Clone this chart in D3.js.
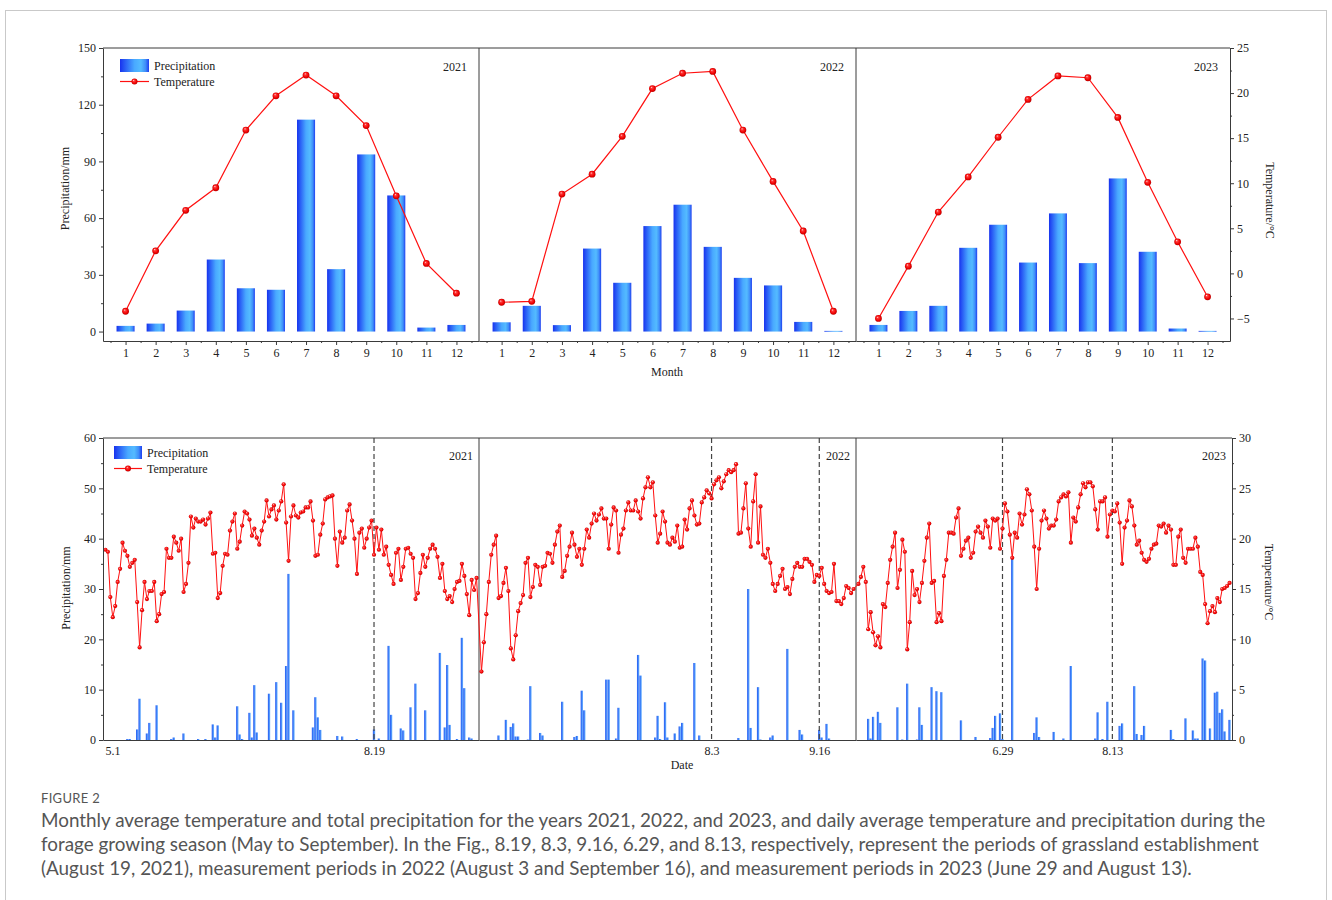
<!DOCTYPE html>
<html>
<head>
<meta charset="utf-8">
<script src="https://cdn.jsdelivr.net/npm/d3@7"></script>
<style>
  body { margin: 0; background: #fff; }
  svg { display: block; }
  .serif text, text.serif { font-family: 'Liberation Serif', 'Times New Roman', serif; }
</style>
</head>
<body>
<svg id="fig" width="1332" height="900"></svg>
<script>
// ---- monthly data (top chart) ----
const months = d3.range(1, 13);
const years = ['2021', '2022', '2023'];

const monthPrecip2021 = [3.0, 4.2, 11.1, 38.1, 22.9, 22.1, 112.1, 33.0, 93.7, 72.0, 2.1, 3.5];
const monthPrecip2022 = [4.9, 13.6, 3.4, 43.9, 25.8, 55.8, 67.1, 44.8, 28.4, 24.4, 5.1, 0.35];
const monthPrecip2023 = [3.5, 10.9, 13.6, 44.3, 56.5, 36.5, 62.5, 36.2, 81.0, 42.2, 1.6, 0.35];

const monthTemp2021 = [-4.2, 2.5, 7.0, 9.5, 15.9, 19.7, 22.0, 19.7, 16.4, 8.6, 1.1, -2.2];
const monthTemp2022 = [-3.2, -3.1, 8.8, 11.0, 15.2, 20.5, 22.2, 22.4, 15.9, 10.2, 4.7, -4.2];
const monthTemp2023 = [-5.0, 0.8, 6.8, 10.7, 15.1, 19.3, 21.9, 21.7, 17.3, 10.1, 3.5, -2.6];

const precipTicksTop = [0, 30, 60, 90, 120, 150];
const tempTicksTop = [-5, 0, 5, 10, 15, 20, 25];

// ---- daily data (bottom chart), May 1 .. Sep 30 ----
const dailyTemp2021 = [
  18.9, 18.7, 14.2, 12.2, 13.3, 15.7, 17.0, 19.6, 18.8, 18.3,
  17.2, 17.6, 17.9, 13.7, 9.2, 12.9, 15.7, 14.0, 14.8, 14.8,
  15.7, 11.8, 12.5, 14.5, 14.7, 19.0, 18.1, 18.1, 20.2, 19.6,
  18.8, 20.0, 14.7, 15.5, 17.6, 22.2, 21.1, 22.0, 21.7, 21.7,
  21.9, 21.4, 22.0, 22.6, 18.5, 18.6, 14.1, 14.6, 17.3, 18.5,
  18.4, 20.8, 21.7, 22.5, 19.0, 19.7, 21.3, 22.7, 22.5, 21.9,
  20.3, 21.0, 20.1, 19.4, 20.8, 21.7, 23.8, 22.2, 22.9, 23.3,
  21.9, 22.8, 23.7, 25.4, 21.6, 17.8,
  22.2, 23.3, 22.3, 22.1, 22.6, 22.7, 23.1, 23.1, 23.7, 21.8,
  18.3, 18.4, 20.4, 21.5, 23.9, 24.1, 24.2, 24.3, 20.0, 17.3,
  20.7, 19.6, 20.1, 22.8, 23.4, 21.8, 20.0, 16.5, 20.6, 21.0,
  19.1, 20.0, 21.1, 21.8, 18.4, 21.1, 18.9, 20.9, 18.4, 19.2,
  17.4, 16.4, 15.5, 18.6, 19.0, 15.9, 17.2, 19.0, 19.1, 18.5,
  18.1, 14.0, 14.6, 16.6, 18.4, 17.2, 18.1, 19.0, 19.4, 19.0,
  18.2, 16.1, 17.5, 14.8, 14.0, 14.3, 13.7, 15.0, 15.7, 15.8,
  17.5, 16.3, 14.5, 12.4, 15.9, 14.9, 16.1
];
const dailyTemp2022 = [
  6.8, 9.7, 12.5, 15.7, 18.4, 19.4, 20.3, 14.1, 14.3, 15.6,
  17.1, 14.8, 9.1, 8.0, 10.4, 12.8, 13.6, 14.4, 17.6, 18.1,
  14.2, 15.2, 17.4, 17.2, 15.4, 17.2, 17.3, 18.6, 18.5, 17.6,
  19.4, 20.7, 21.3, 16.2, 16.8, 18.3, 19.2, 20.6, 19.4, 18.2,
  19.0, 17.4, 19.0, 20.9, 20.1, 21.5, 22.5, 21.8, 22.4, 23.0,
  22.0, 22.0, 19.0, 21.4, 23.1, 22.8, 18.6, 20.4, 21.0, 22.8,
  23.6, 22.8, 22.8, 23.8, 22.7, 22.0, 24.0, 25.1, 26.1, 25.1,
  25.6, 22.3, 19.6, 20.5, 22.7, 21.7,
  19.6, 19.4, 20.1, 19.7, 21.3, 19.1, 19.2, 21.9, 20.9, 23.0,
  23.8, 22.3, 21.4, 21.5, 23.6, 24.1, 24.8, 24.5, 24.0, 25.4,
  25.8, 26.1, 25.0, 25.7, 26.4, 26.8, 26.6, 26.8, 27.4, 20.5,
  20.6, 23.0, 25.5, 21.0, 19.2, 23.7, 26.4, 19.6, 23.2, 18.4,
  18.1, 19.0, 17.6, 15.5, 14.8, 15.5, 16.3, 17.0, 15.0, 15.2,
  14.5, 16.0, 17.2, 17.6, 17.2, 17.2, 18.0, 18.0, 17.7, 17.4,
  15.7, 16.4, 16.3, 17.1, 15.5, 14.8, 14.6, 14.7, 17.5, 13.8,
  13.8, 13.5, 14.1, 15.3, 15.1, 14.6, 15.0
];
const dailyTemp2023 = [
  15.5, 16.2, 17.2, 15.7, 11.0, 12.7, 10.7, 9.4, 10.3, 9.2,
  13.5, 13.2, 15.6, 17.9, 19.2, 20.6, 15.1, 16.9, 19.9, 18.7,
  9.0, 11.7, 16.8, 14.4, 15.0, 13.7, 15.6, 17.8, 20.1, 21.5,
  15.6, 15.8, 11.7, 12.6, 11.8, 16.3, 17.9, 20.6, 20.6, 20.5,
  22.1, 23.0, 18.3, 19.0, 19.8, 20.1, 18.1, 18.6, 20.7, 21.2,
  20.6, 20.1, 21.8, 21.2, 19.1, 22.0, 21.8, 22.0, 19.0, 21.0,
  23.5, 22.7, 20.4, 18.1, 20.6, 20.1, 22.5, 21.4, 22.4, 24.9,
  24.4, 22.8, 19.2, 15.0, 19.0, 21.8, 22.8, 22.0, 21.0,
  21.3, 21.3, 21.9, 23.7, 24.1, 24.4, 24.2, 24.6, 19.6, 22.1,
  21.7, 23.1, 24.4, 25.5, 25.1, 25.6, 25.6, 25.2, 22.9, 20.9,
  23.7, 23.7, 24.1, 20.2, 22.4, 22.8, 22.7, 23.5, 21.6, 17.5,
  21.1, 21.8, 23.8, 23.2, 21.3, 19.4, 19.8, 18.6, 17.9, 17.7,
  18.0, 19.0, 19.4, 19.5, 21.3, 21.2, 21.5, 20.6, 21.3, 20.9,
  17.4, 17.4, 20.2, 20.9, 18.1, 17.6, 19.0, 19.0, 19.0, 20.1,
  19.2, 16.7, 16.4, 13.5, 11.6, 12.8, 13.3, 12.7, 14.1, 13.7,
  15.0, 15.1, 15.3, 15.6
];

// [days after May 1, mm]
const dailyRain2021 = [
  [9, 0.2], [10, 0.2], [13, 2.1], [14, 8.2], [17, 1.3], [18, 3.4], [21, 6.9], [27, 0.2], [28, 0.5],
  [32, 1.3], [38, 0.2], [41, 0.2], [44, 3.1], [45, 0.5], [46, 2.9], [54, 6.7], [55, 1.1], [56, 0.2],
  [59, 5.4], [60, 0.5], [61, 10.9], [62, 1.5], [67, 9.2], [70, 11.5], [72, 7.4], [74, 14.7], [75, 33.0],
  [77, 5.9], [85, 2.5], [86, 8.5], [87, 4.5], [88, 2.0], [95, 0.8], [97, 0.7], [103, 0.2], [110, 2.1],
  [112, 0.3], [116, 18.7], [117, 5.0], [121, 2.3], [122, 1.9], [125, 6.5], [127, 11.2], [131, 5.9],
  [137, 17.3], [139, 2.5], [140, 14.9], [141, 3.0], [144, 0.2], [146, 20.3], [147, 10.3], [149, 0.5], [150, 0.3]
];
const dailyRain2022 = [
  [7, 0.9], [10, 4.0], [12, 2.6], [13, 3.3], [14, 0.7], [15, 0.7], [19, 0.1], [20, 10.7], [24, 1.4],
  [25, 0.9], [33, 7.6], [38, 0.6], [39, 0.8], [41, 9.8], [42, 5.9], [51, 12.0], [52, 12.0], [55, 0.3],
  [56, 6.4], [64, 16.9], [65, 12.8], [71, 0.5], [72, 4.8], [73, 0.2], [75, 7.5], [76, 0.5], [79, 1.3],
  [81, 2.7], [82, 3.4], [87, 15.3], [89, 0.9], [105, 0.4], [109, 30.0], [110, 2.4], [113, 10.5], [114, 0.1],
  [118, 0.5], [119, 0.9], [125, 18.1], [130, 2.0], [131, 1.1], [138, 2.0], [139, 0.5], [141, 3.2], [142, 0.3]
];
const dailyRain2023 = [
  [4, 4.2], [5, 0.3], [6, 4.6], [8, 5.6], [9, 3.4], [16, 6.5], [18, 0.1], [20, 11.2], [24, 0.1],
  [25, 6.5], [26, 3.0], [30, 10.5], [32, 9.7], [34, 9.5], [42, 3.9], [48, 0.6], [54, 0.4], [55, 2.4],
  [56, 4.8], [58, 5.3], [59, 0.2], [63, 36.0], [72, 1.4], [73, 4.5], [74, 0.6], [80, 1.6], [84, 0.3],
  [87, 14.7], [97, 0.3], [98, 5.5], [100, 0.2], [102, 7.6], [107, 2.8], [108, 3.3], [113, 10.7], [114, 1.2],
  [116, 1.0], [117, 2.8], [128, 2.0], [129, 0.2], [134, 4.3], [137, 1.9], [138, 0.3], [139, 0.3],
  [141, 16.2], [142, 15.8], [144, 2.3], [146, 9.4], [147, 9.6], [148, 5.4], [149, 6.1], [150, 1.7], [152, 4.0]
];

// measurement / establishment dates (dashed lines)
const markDates2021 = ['8.19'];
const markDates2022 = ['8.3', '9.16'];
const markDates2023 = ['6.29', '8.13'];

const precipTicksBot = [0, 10, 20, 30, 40, 50, 60];
const tempTicksBot = [0, 5, 10, 15, 20, 25, 30];

const captionLines = [
  'Monthly average temperature and total precipitation for the years 2021, 2022, and 2023, and daily average temperature and precipitation during the',
  'forage growing season (May to September). In the Fig., 8.19, 8.3, 9.16, 6.29, and 8.13, respectively, represent the periods of grassland establishment',
  '(August 19, 2021), measurement periods in 2022 (August 3 and September 16), and measurement periods in 2023 (June 29 and August 13).'
];

const monthlyPrecip = [monthPrecip2021, monthPrecip2022, monthPrecip2023];
const monthlyTemp = [monthTemp2021, monthTemp2022, monthTemp2023];
const dailyTemp = [dailyTemp2021, dailyTemp2022, dailyTemp2023];
const dailyRain = [dailyRain2021, dailyRain2022, dailyRain2023];
const markDates = [markDates2021, markDates2022, markDates2023];

const monthLen = { 5: 31, 6: 30, 7: 31, 8: 31, 9: 30 };
function seasonDay(md) {
  const [m, d] = md.split('.').map(Number);
  let n = d - 1;
  for (let k = 5; k < m; k++) n += monthLen[k];
  return n;
}

const INK = '#222';
const AXIS = '#3a3a3a';

const svg = d3.select('#fig');
const defs = svg.append('defs');

const barGrad = defs.append('linearGradient').attr('id', 'barGrad')
  .attr('x1', 0).attr('x2', 1).attr('y1', 0).attr('y2', 0);
[[0, '#1732ee'], [0.12, '#2450f3'], [0.5, '#49a9ff'], [0.72, '#54bbff'], [0.88, '#3f8ef9'], [1, '#1f3ff0']]
  .forEach(([o, c]) => barGrad.append('stop').attr('offset', o).attr('stop-color', c));

const dayGrad = defs.append('linearGradient').attr('id', 'dayGrad')
  .attr('x1', 0).attr('x2', 1).attr('y1', 0).attr('y2', 0);
[[0, '#2452f2'], [0.5, '#3f86f8'], [1, '#6eb2ff']]
  .forEach(([o, c]) => dayGrad.append('stop').attr('offset', o).attr('stop-color', c));

const dotGrad = defs.append('radialGradient').attr('id', 'dotGrad')
  .attr('cx', '50%').attr('cy', '50%').attr('r', '55%').attr('fx', '35%').attr('fy', '30%');
[[0, '#ffe4e4'], [0.25, '#ff3a3a'], [0.7, '#ee0000'], [1, '#a80000']]
  .forEach(([o, c]) => dotGrad.append('stop').attr('offset', o).attr('stop-color', c));

// card border
svg.append('rect')
  .attr('x', 5.5).attr('y', 10.5).attr('width', 1321).attr('height', 900)
  .attr('fill', 'none').attr('stroke', '#c9c9c9');

const chart = svg.append('g').attr('class', 'serif');

function styleAxis(g) {
  g.attr('font-family', null);
  g.selectAll('path.domain').attr('stroke', AXIS);
  g.selectAll('.tick line').attr('stroke', AXIS);
  g.selectAll('.tick text').attr('fill', INK).attr('font-size', 12);
}
function minorAxis(axis) {
  return (g) => { g.call(axis); g.select('path.domain').remove(); g.selectAll('.tick line').attr('stroke', AXIS); };
}
function label(x, y, txt, rot) {
  const t = chart.append('text')
    .attr('text-anchor', 'middle').attr('font-size', 12).attr('fill', INK).text(txt);
  t.attr('transform', `translate(${x},${y})` + (rot ? ` rotate(${rot})` : ''));
  return t;
}

// =================== TOP: monthly ===================
const T = { top: 48, bottom: 341, edges: [103, 479, 856, 1230] };
const yPrecipTop = d3.scaleLinear().domain([-5, 150]).range([T.bottom, T.top]);
const yTempTop = d3.scaleLinear().domain([-7.5, 25]).range([T.bottom, T.top]);

years.forEach((yr, i) => {
  const x0 = T.edges[i], x1 = T.edges[i + 1];
  const xm = d3.scaleLinear().domain([0.25, 12.75]).range([x0, x1]);
  const bw = 0.6 * (xm(2) - xm(1));
  const g = chart.append('g');

  g.selectAll('rect').data(monthlyPrecip[i]).join('rect')
    .attr('x', (v, k) => xm(months[k]) - bw / 2)
    .attr('y', (v) => yPrecipTop(v))
    .attr('width', bw)
    .attr('height', (v) => Math.max(0.8, yPrecipTop(0) - yPrecipTop(v)))
    .attr('fill', 'url(#barGrad)');

  const line = d3.line().x((v, k) => xm(months[k])).y((v) => yTempTop(v));
  g.append('path').datum(monthlyTemp[i])
    .attr('d', line).attr('fill', 'none').attr('stroke', '#ff1010').attr('stroke-width', 1.2);
  g.selectAll('circle').data(monthlyTemp[i]).join('circle')
    .attr('cx', (v, k) => xm(months[k])).attr('cy', (v) => yTempTop(v))
    .attr('r', 3.4).attr('fill', 'url(#dotGrad)');

  chart.append('g').attr('transform', `translate(0,${T.bottom})`)
    .call(d3.axisBottom(xm).tickValues(months).tickSize(4).tickSizeOuter(0).tickPadding(3))
    .call(styleAxis);
  chart.append('g').attr('transform', `translate(0,${T.bottom})`)
    .call(minorAxis(d3.axisBottom(xm).tickValues(d3.range(0.5, 13, 1)).tickSize(2).tickFormat('')));

  chart.append('text')
    .attr('x', x1 - 12).attr('y', 71).attr('text-anchor', 'end')
    .attr('font-size', 12).attr('fill', INK)
    .text(yr);

  if (i < 2) {
    chart.append('line').attr('x1', x1).attr('x2', x1).attr('y1', T.top).attr('y2', T.bottom)
      .attr('stroke', AXIS);
  }
});

chart.append('line').attr('x1', T.edges[0]).attr('x2', T.edges[3]).attr('y1', T.top).attr('y2', T.top)
  .attr('stroke', AXIS);

chart.append('g').attr('transform', `translate(${T.edges[0]},0)`)
  .call(d3.axisLeft(yPrecipTop).tickValues(precipTicksTop).tickSize(4).tickSizeOuter(0).tickPadding(3))
  .call(styleAxis);
chart.append('g').attr('transform', `translate(${T.edges[0]},0)`)
  .call(minorAxis(d3.axisLeft(yPrecipTop).tickValues([15, 45, 75, 105, 135]).tickSize(2).tickFormat('')));
chart.append('g').attr('transform', `translate(${T.edges[3]},0)`)
  .call(d3.axisRight(yTempTop).tickValues(tempTicksTop).tickSize(4).tickSizeOuter(0).tickPadding(3))
  .call(styleAxis);
chart.append('g').attr('transform', `translate(${T.edges[3]},0)`)
  .call(minorAxis(d3.axisRight(yTempTop).tickValues(d3.range(-2.5, 25, 5)).tickSize(2).tickFormat('')));

label(69, (T.top + T.bottom) / 2 - 6, 'Precipitation/mm', -90);
label(1266, (T.top + T.bottom) / 2 + 6, 'Temperature/°C', 90);
label(667, 376, 'Month');

// legend
function legend(x, y, w, h, gap) {
  const lg = chart.append('g');
  lg.append('rect').attr('x', x).attr('y', y).attr('width', w).attr('height', h).attr('fill', 'url(#barGrad)');
  lg.append('text').attr('x', x + w + 5).attr('y', y + h / 2 + 4)
    .attr('font-size', 12).attr('fill', INK).text('Precipitation');
  const ly = y + h / 2 + gap;
  lg.append('line').attr('x1', x).attr('x2', x + w).attr('y1', ly).attr('y2', ly)
    .attr('stroke', '#ff1010').attr('stroke-width', 1.2);
  lg.append('circle').attr('cx', x + w / 2).attr('cy', ly).attr('r', 3).attr('fill', 'url(#dotGrad)');
  lg.append('text').attr('x', x + w + 5).attr('y', ly + 4)
    .attr('font-size', 12).attr('fill', INK).text('Temperature');
}
legend(120, 59, 29, 13, 16);

// =================== BOTTOM: daily ===================
const B = { top: 438, bottom: 740, edges: [103, 479, 856, 1232] };
const yPrecipBot = d3.scaleLinear().domain([0, 60]).range([B.bottom, B.top]);
const yTempBot = d3.scaleLinear().domain([0, 30]).range([B.bottom, B.top]);

const dayScales = years.map((yr, i) =>
  d3.scaleLinear().domain([-1, 153]).range([B.edges[i], B.edges[i + 1]]));

years.forEach((yr, i) => {
  const xd = dayScales[i];
  const x1 = B.edges[i + 1];
  const bw = (xd(1) - xd(0)) * 0.95;

  chart.append('g').selectAll('rect').data(dailyRain[i]).join('rect')
    .attr('x', (d) => xd(d[0]) - bw / 2)
    .attr('y', (d) => yPrecipBot(d[1]))
    .attr('width', bw)
    .attr('height', (d) => yPrecipBot(0) - yPrecipBot(d[1]))
    .attr('fill', 'url(#dayGrad)');

  markDates[i].forEach((md) => {
    const xv = xd(seasonDay(md));
    chart.append('line').attr('x1', xv).attr('x2', xv).attr('y1', B.top).attr('y2', B.bottom)
      .attr('stroke', '#444').attr('stroke-width', 1.2).attr('stroke-dasharray', '5 3');
  });

  const tickDays = (i === 0 ? ['5.1'] : []).concat(markDates[i]);
  const ax = chart.append('g').attr('transform', `translate(0,${B.bottom})`)
    .call(d3.axisBottom(xd).tickValues(tickDays.map(seasonDay)).tickSize(0).tickPadding(6)
      .tickFormat((v) => tickDays[tickDays.map(seasonDay).indexOf(v)]))
    .call(styleAxis);
  if (i === 0) ax.selectAll('.tick text').filter((v) => v === 0).attr('dx', 7);

  chart.append('text')
    .attr('x', x1 - 6).attr('y', 460).attr('text-anchor', 'end')
    .attr('font-size', 12).attr('fill', INK)
    .text(yr);

  if (i < 2) {
    chart.append('line').attr('x1', x1).attr('x2', x1).attr('y1', B.top).attr('y2', B.bottom)
      .attr('stroke', AXIS);
  }
});

// continuous daily temperature line across the three seasons
const tempPoints = years.flatMap((yr, i) =>
  dailyTemp[i].map((t, d) => ({ x: dayScales[i](d), t })));
chart.append('path').datum(tempPoints)
  .attr('d', d3.line().x((p) => p.x).y((p) => yTempBot(p.t)))
  .attr('fill', 'none').attr('stroke', '#ff1010').attr('stroke-width', 1);
chart.append('g').selectAll('circle').data(tempPoints).join('circle')
  .attr('cx', (p) => p.x).attr('cy', (p) => yTempBot(p.t))
  .attr('r', 2.1).attr('fill', 'url(#dotGrad)');

chart.append('line').attr('x1', B.edges[0]).attr('x2', B.edges[3]).attr('y1', B.top).attr('y2', B.top)
  .attr('stroke', AXIS);

chart.append('g').attr('transform', `translate(${B.edges[0]},0)`)
  .call(d3.axisLeft(yPrecipBot).tickValues(precipTicksBot).tickSize(4).tickSizeOuter(0).tickPadding(3))
  .call(styleAxis);
chart.append('g').attr('transform', `translate(${B.edges[0]},0)`)
  .call(minorAxis(d3.axisLeft(yPrecipBot).tickValues(d3.range(5, 60, 10)).tickSize(2).tickFormat('')));
chart.append('g').attr('transform', `translate(${B.edges[3]},0)`)
  .call(d3.axisRight(yTempBot).tickValues(tempTicksBot).tickSize(4).tickSizeOuter(0).tickPadding(3))
  .call(styleAxis);
chart.append('g').attr('transform', `translate(${B.edges[3]},0)`)
  .call(minorAxis(d3.axisRight(yTempBot).tickValues(d3.range(2.5, 30, 5)).tickSize(2).tickFormat('')));

label(70, 588, 'Precipitation/mm', -90);
label(1265, 582, 'Temperature/°C', 90);
label(682, 769, 'Date');

legend(114, 446, 28, 13, 16);

// =================== caption ===================
const CAP = 'Lato, "Open Sans", sans-serif';
svg.append('text')
  .attr('x', 41).attr('y', 803)
  .attr('font-family', CAP).attr('font-size', 13).attr('fill', '#555').attr('letter-spacing', 0.3)
  .text('FIGURE 2');
const capTexts = captionLines.map((s, k) => svg.append('text')
  .attr('x', 41).attr('y', 827 + k * 24)
  .attr('font-family', CAP).attr('font-size', 17).attr('fill', '#555')
  .text(s));
// fit the first caption line to its width in the reference
const w0 = capTexts[0].node().getComputedTextLength();
const fs = 17 * 1224 / w0;
capTexts.forEach((t) => t.attr('font-size', fs.toFixed(2)));
</script>
</body>
</html>
